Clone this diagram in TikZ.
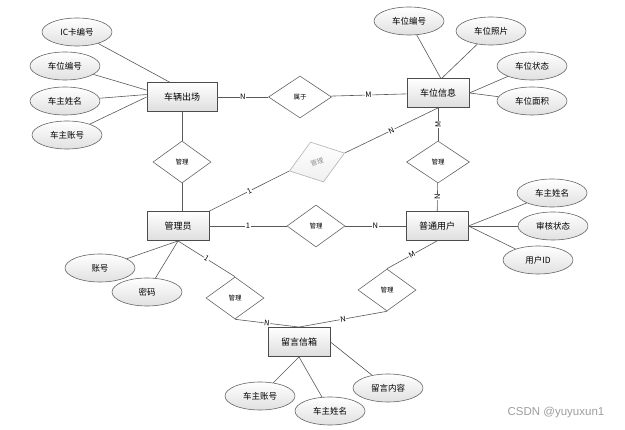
\documentclass[tikz,border=0pt]{standalone}
\usepackage{fontspec}
\setmainfont{Noto Sans CJK SC}
\newfontfamily\markfont{Liberation Sans}
\usetikzlibrary{shapes.geometric}
\tikzset{
  entity/.style={rectangle,draw=black!70,line width=0.9pt,top color=white,bottom color=black!13,
    minimum width=62pt,minimum height=29pt,inner sep=0pt,font=\fontsize{9}{10}\selectfont},
  attr/.style={ellipse,draw=black!60,line width=0.6pt,top color=white,bottom color=black!12,
    minimum width=70pt,minimum height=28pt,inner sep=0pt,font=\fontsize{8.5}{10}\selectfont},
  rel/.style={diamond,draw=black!60,line width=0.6pt,fill=white,
    minimum width=58pt,minimum height=42pt,inner sep=0pt,font=\fontsize{6.5}{7}\selectfont},
  card/.style={fill=white,inner sep=0.6pt,font=\fontsize{7.5}{8}\selectfont},
  link/.style={draw=black!65,line width=0.6pt},
}
\begin{document}
\begin{tikzpicture}[x=1pt,y=-1pt]
  \fill[white] (0,0) rectangle (625,430);
  \useasboundingbox (0,0) rectangle (625,430);
  % entities
  \node[entity,minimum width=70pt] (car) at (182,97) {车辆出场};
  \node[entity] (info) at (438,93) {车位信息};
  \node[entity] (admin) at (178,226) {管理员};
  \node[entity] (user) at (437,226) {普通用户};
  \node[entity] (box) at (299,342) {留言信箱};
  % relations
  \node[rel,minimum width=63pt] (belong) at (300,97) {属于};
  \node[rel] (mg1) at (182,162) {管理};
  \node[rel,minimum width=63pt] (mg2) at (438,162) {管理};
  \node[rel,rotate=18,draw=black!30,text=black!45,top color=white,bottom color=black!6] (mg3) at (317,162) {管理};
  \node[rel] (mg4) at (316,226) {管理};
  \node[rel] (mg5) at (235,298) {管理};
  \node[rel] (mg6) at (387,290) {管理};
  % attributes
  \node[attr] (car1) at (77,32) {IC卡编号};
  \node[attr] (car2) at (65,66) {车位编号};
  \node[attr] (car3) at (65,101) {车主姓名};
  \node[attr] (car4) at (67,135) {车主账号};
  \node[attr] (info1) at (409,21) {车位编号};
  \node[attr] (info2) at (491,31) {车位照片};
  \node[attr] (info3) at (532,66) {车位状态};
  \node[attr] (info4) at (532,101) {车位面积};
  \node[attr] (user1) at (552,193) {车主姓名};
  \node[attr] (user2) at (553,226) {审核状态};
  \node[attr] (user3) at (538,260) {用户ID};
  \node[attr] (admin1) at (100,268) {账号};
  \node[attr] (admin2) at (147,292) {密码};
  \node[attr] (box1) at (260,396) {车主账号};
  \node[attr] (box2) at (330,411) {车主姓名};
  \node[attr] (box3) at (388,388) {留言内容};
  % attribute links
  \draw[link] (car1) -- (car.130);
  \draw[link] (car2) -- (car.169);
  \draw[link] (car3) -- (car.176);
  \draw[link] (car4) -- (car.west);
  \draw[link] (info1) -- (info.80);
  \draw[link] (info2) -- (info.75);
  \draw[link] (info3) -- (info.east);
  \draw[link] (info4) -- (info.east);
  \draw[link] (user1) -- (user.east);
  \draw[link] (user2) -- (user.east);
  \draw[link] (user3) -- (user.east);
  \draw[link] (admin1) -- (admin.south);
  \draw[link] (admin2) -- (admin.south);
  \draw[link] (box1) -- (box.south);
  \draw[link] (box2) -- (box.south);
  \draw[link] (box3) -- (box.east);
  % relation links
  \draw[link] (car) -- node[card]{N} (belong);
  \draw[link] (belong) -- node[card]{M} (info);
  \draw[link] (car) -- (mg1);
  \draw[link] (mg1) -- (mg1 |- admin.north);
  \draw[link] (info) -- node[card,rotate=90]{M} (mg2);
  \draw[link] (mg2) -- node[card,rotate=90]{N} (user);
  \draw[link] (admin.north east) -- node[card,sloped]{1} (mg3.west);
  \draw[link] (mg3.east) -- node[card,sloped]{N} (info.south);
  \draw[link] (admin) -- node[card]{1} (mg4);
  \draw[link] (mg4) -- node[card]{N} (user);
  \draw[link] (admin.south) -- node[card,sloped]{1} (mg5.north);
  \draw[link] (mg5.south) -- node[card,sloped]{N} (box.north);
  \draw[link] (user.south) -- node[card,sloped]{M} (mg6.north);
  \draw[link] (mg6.south) -- node[card,sloped]{N} (box.north);
  % watermark
  \node[text=black!38,font=\markfont\fontsize{11.5}{13}\selectfont] (mark) at (556,413) {CSDN @yuyuxun1};
\end{tikzpicture}
\end{document}
